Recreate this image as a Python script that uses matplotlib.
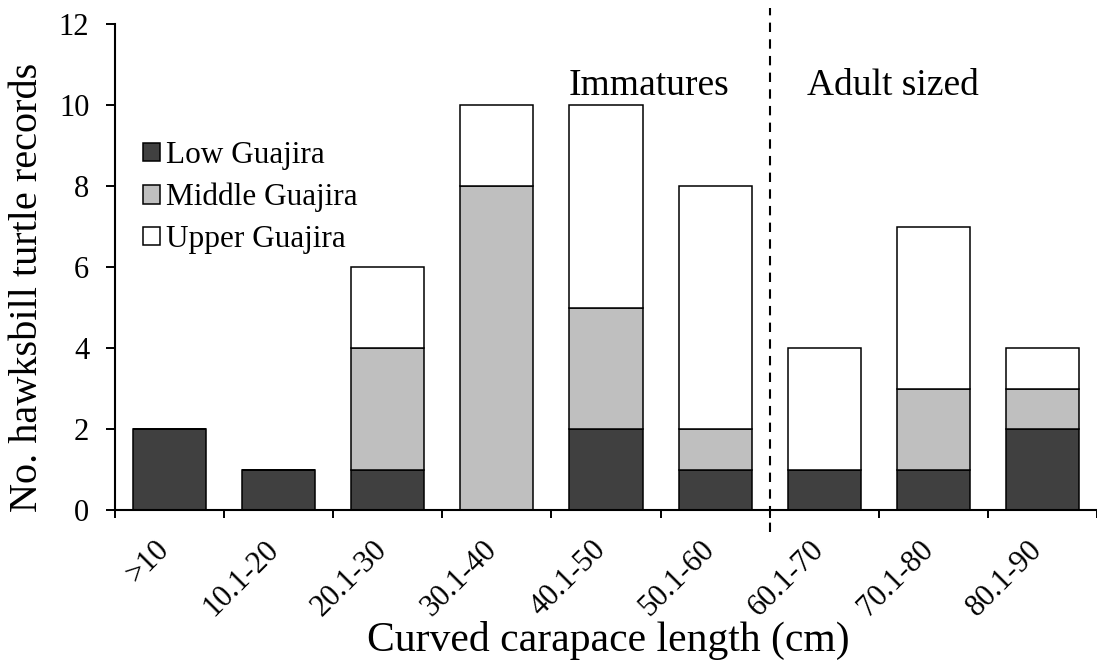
import numpy as np
import matplotlib
matplotlib.use("Agg")
import matplotlib.pyplot as plt

plt.rcParams["font.family"] = ["Liberation Serif", "DejaVu Serif"]

# ---- hawksbill records per size class and zone -------------------------------
size_classes = [">10", "10.1-20", "20.1-30", "30.1-40", "40.1-50",
                "50.1-60", "60.1-70", "70.1-80", "80.1-90"]
low_guajira = [2, 1, 1, 0, 2, 1, 1, 1, 2]
middle_guajira = [0, 0, 3, 8, 3, 1, 0, 2, 1]
upper_guajira = [0, 0, 2, 2, 5, 6, 3, 4, 1]
zone_names = ["Low Guajira", "Middle Guajira", "Upper Guajira"]
zone_colors = ["#404040", "#bfbfbf", "#ffffff"]
adult_boundary = 5.5   # between 50.1-60 and 60.1-70

W, H = 1097, 660
fig = plt.figure(figsize=(W / 100, H / 100), dpi=100)
# x range runs past the right edge, so the axis line is cut by the figure border
ax = fig.add_axes([115 / W, 150 / H, 1 - 115 / W, 486 / H])

x = np.arange(len(size_classes))
bottom = np.zeros(len(x))
for vals, name, col in zip([low_guajira, middle_guajira, upper_guajira],
                           zone_names, zone_colors):
    ax.bar(x, vals, width=0.67, bottom=bottom, color=col, edgecolor="black",
           linewidth=1.1, label=name, zorder=2)
    bottom += np.array(vals)

ax.set_xlim(-0.5, -0.5 + (W - 115) / 110)
ax.set_ylim(0, 12)
ax.set_yticks(np.arange(0, 13, 2))
ax.set_yticklabels([str(v) for v in range(0, 13, 2)], fontsize=22)

# boundary ticks carry no labels; labels sit on minor ticks at bar centres
ax.set_xticks(np.arange(-0.5, len(x) + 0.5, 1.0))
ax.set_xticklabels([])
ax.set_xticks(x + 0.05, size_classes, minor=True, rotation=45, ha="right",
              fontsize=22)
ax.tick_params(axis="x", which="major", direction="out", length=6, width=1.4)
ax.tick_params(axis="x", which="minor", length=0, pad=18)
ax.tick_params(axis="y", direction="out", length=6.5, width=1.4, pad=12)

for s in ["top", "right"]:
    ax.spines[s].set_visible(False)
for s in ["left", "bottom"]:
    ax.spines[s].set_linewidth(1.5)

ax.plot([adult_boundary, adult_boundary], [-0.54, 12.4], color="black",
        lw=1.5, ls=(0, (4.5, 3.5)), clip_on=False, zorder=3)

ax.text(4.39, 10.25, "Immatures", fontsize=27, ha="center", va="baseline")
ax.text(6.63, 10.25, "Adult sized", fontsize=27, ha="center", va="baseline")

ax.legend(loc="upper left", bbox_to_anchor=(143 / W, 1 - 141 / H),
          bbox_transform=fig.transFigure, frameon=False, fontsize=22.5,
          handlelength=0.55, handleheight=0.55, handletextpad=0.2,
          labelspacing=0.41, borderpad=0, borderaxespad=0)

fig.text(608 / W, 1 - 640 / H, "Curved carapace length (cm)", fontsize=30,
         ha="center", va="center")
fig.text(27.5 / W, 1 - 287 / H, "No. hawksbill turtle records", fontsize=29,
         ha="center", va="center", rotation=90)

fig.savefig("out.png", dpi=100)
